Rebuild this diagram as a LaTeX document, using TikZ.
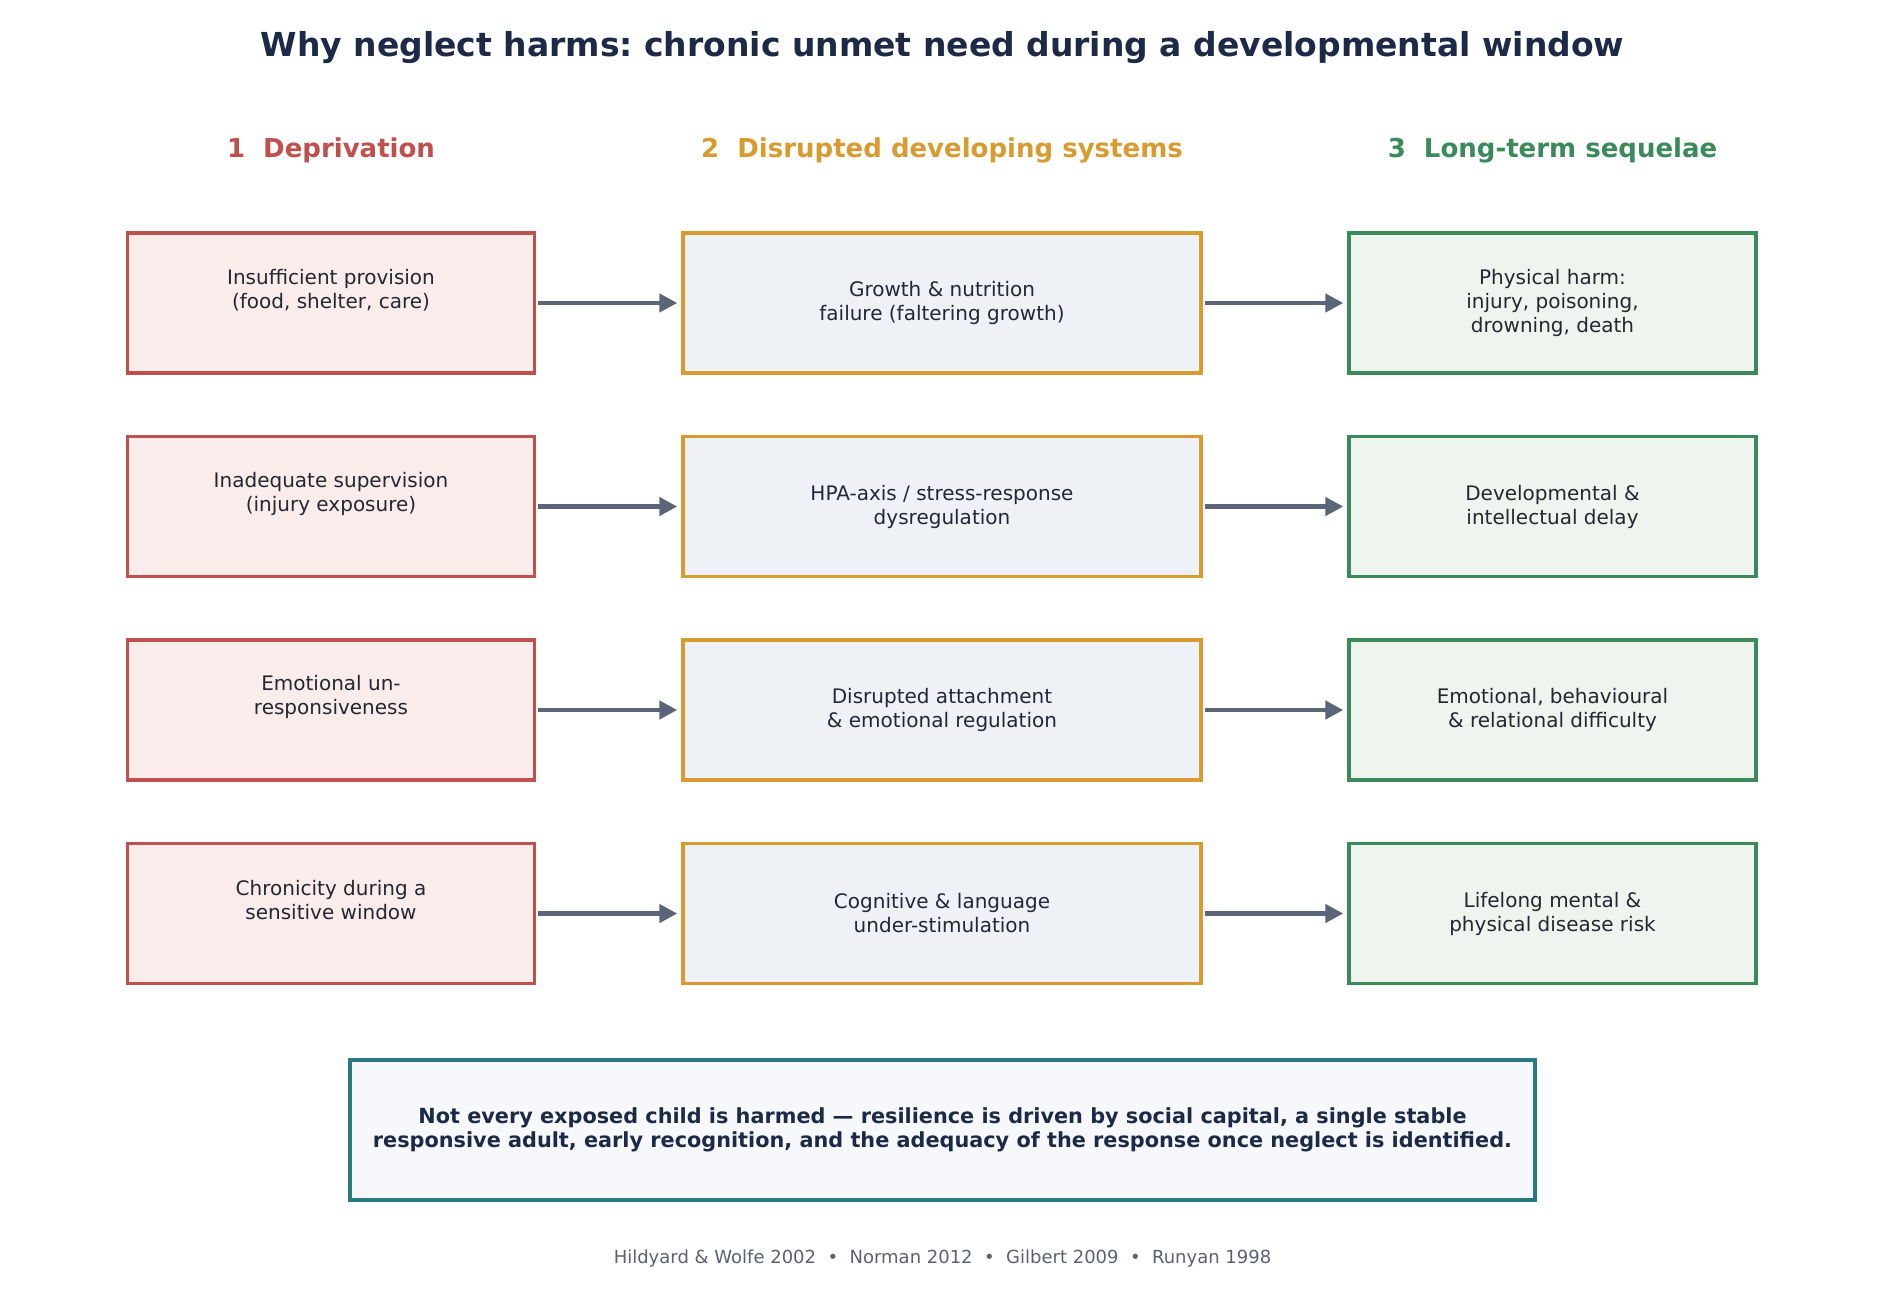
\documentclass[tikz,border=0pt]{standalone}
\usepackage{fontspec}
\setmainfont{DejaVu Sans}
\usetikzlibrary{arrows.meta}
\frenchspacing
\definecolor{navy}{HTML}{1C2A48}
\definecolor{txt}{HTML}{222831}
\definecolor{redb}{HTML}{C0504D}
\definecolor{redf}{HTML}{FBECEC}
\definecolor{ambb}{HTML}{D99A30}
\definecolor{ambf}{HTML}{EEF2F7}
\definecolor{grnb}{HTML}{3A8A5A}
\definecolor{grnf}{HTML}{EEF5EF}
\definecolor{tealb}{HTML}{2A7A82}
\definecolor{tealf}{HTML}{F6F8FB}
\definecolor{arr}{HTML}{5B6479}
\definecolor{foot}{HTML}{5A6272}
\tikzset{
  box/.style={draw, line width=1.7pt, rectangle, minimum height=70pt, align=center, font=\fontsize{10}{12}\selectfont, text=txt, inner sep=0pt},
  cola/.style={box, draw=redb, fill=redf, minimum width=203.5pt},
  colb/.style={box, draw=ambb, fill=ambf, minimum width=259pt},
  colc/.style={box, draw=grnb, fill=grnf, minimum width=203.5pt},
  hdr/.style={font=\fontsize{13}{15}\selectfont\bfseries},
  flow/.style={draw=arr, line width=2.2pt, -{Triangle[length=9pt,width=9pt]}, shorten <=1pt, shorten >=2pt},
}
\begin{document}
\begin{tikzpicture}[x=0.5pt,y=-0.5pt]
\useasboundingbox[fill=white] (0,0) rectangle (1885,1307);
\node[font=\fontsize{16.5}{20}\selectfont\bfseries, text=navy] (title) at (942.5,47.5) {Why neglect harms: chronic unmet need during a developmental window};
\node[hdr, text=redb] (h1) at (331,150.5) {1\ \ Deprivation};
\node[hdr, text=ambb] (h2) at (942,150.5) {2\ \ Disrupted developing systems};
\node[hdr, text=grnb] (h3) at (1552.5,150.5) {3\ \ Long-term sequelae};

\node[cola] (a1) at (331,303) {};
\node[cola] (a2) at (331,506.5) {};
\node[cola] (a3) at (331,710) {};
\node[cola] (a4) at (331,913.5) {};
\node[align=center, font=\fontsize{10}{12}\selectfont, text=txt] (ta1) at ([yshift=6.5pt]a1.center) {Insufficient provision\\(food, shelter, care)};
\node[align=center, font=\fontsize{10}{12}\selectfont, text=txt] (ta2) at ([yshift=6.5pt]a2.center) {Inadequate supervision\\(injury exposure)};
\node[align=center, font=\fontsize{10}{12}\selectfont, text=txt] (ta3) at ([yshift=6.5pt]a3.center) {Emotional un-\\responsiveness};
\node[align=center, font=\fontsize{10}{12}\selectfont, text=txt] (ta4) at ([yshift=6.5pt]a4.center) {Chronicity during a\\sensitive window};

\node[colb] (b1) at (942,303) {Growth \& nutrition\\failure (faltering growth)};
\node[colb] (b2) at (942,506.5) {HPA-axis / stress-response\\dysregulation};
\node[colb] (b3) at (942,710) {Disrupted attachment\\\& emotional regulation};
\node[colb] (b4) at (942,913.5) {Cognitive \& language\\under-stimulation};

\node[colc] (c1) at (1552.5,303) {Physical harm:\\injury, poisoning,\\drowning, death};
\node[colc] (c2) at (1552.5,506.5) {Developmental \&\\intellectual delay};
\node[colc] (c3) at (1552.5,710) {Emotional, behavioural\\\& relational difficulty};
\node[colc] (c4) at (1552.5,913.5) {Lifelong mental \&\\physical disease risk};

\foreach \i in {1,2,3,4}{
  \draw[flow] (a\i.east) -- (b\i.west);
  \draw[flow] (b\i.east) -- (c\i.west);
}

\node[draw=tealb, fill=tealf, line width=1.7pt, minimum width=592.5pt, minimum height=70pt, align=center, text=navy, font=\fontsize{10.4}{12.2}\selectfont\bfseries, inner sep=0pt] (note) at (942.5,1130) {Not every exposed child is harmed — resilience is driven by social capital, a single stable\\responsive adult, early recognition, and the adequacy of the response once neglect is identified.};

\node[font=\fontsize{9}{11}\selectfont, text=foot] (refs) at (942.5,1259) {Hildyard \& Wolfe 2002\ \ \textbullet\ \ Norman 2012\ \ \textbullet\ \ Gilbert 2009\ \ \textbullet\ \ Runyan 1998};
\end{tikzpicture}
\end{document}
